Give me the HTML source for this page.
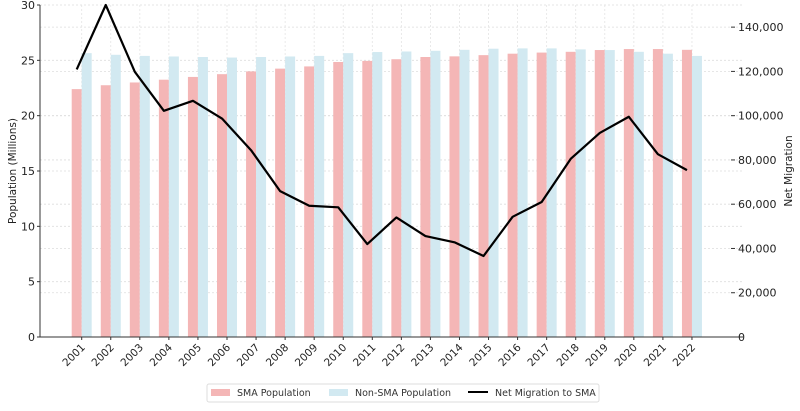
<!DOCTYPE html>
<html><head><meta charset="utf-8"><style>
body{margin:0;background:#fff;width:800px;height:406px;overflow:hidden}
svg{font-family:"DejaVu Sans","Liberation Sans",sans-serif}
</style></head><body>
<svg id="chart" width="800" height="406" viewBox="0 0 800 406" xmlns="http://www.w3.org/2000/svg"></svg>
<script>
const years=["2001","2002","2003","2004","2005","2006","2007","2008","2009","2010","2011","2012","2013","2014","2015","2016","2017","2018","2019","2020","2021","2022"];
const smaPop=[22.4,22.75,23.0,23.25,23.5,23.75,24.0,24.25,24.45,24.85,24.95,25.1,25.3,25.36,25.47,25.6,25.7,25.77,25.93,26.02,26.02,25.95];
const nonSmaPop=[25.65,25.5,25.4,25.35,25.3,25.25,25.3,25.35,25.4,25.65,25.75,25.8,25.86,25.95,26.05,26.08,26.08,25.99,25.93,25.77,25.6,25.4];
const netMigration=[120900,150000,119800,102200,106700,98700,84400,65900,59300,58600,42000,54000,45600,42800,36600,54300,61000,80500,92200,99500,82600,75400];
const leftTicks=[0,5,10,15,20,25,30];
const rightTicks=[0,20000,40000,60000,80000,100000,120000,140000];

const svg=document.getElementById('chart');
const NS='http://www.w3.org/2000/svg';
const X0=40,Y0=337,YT=5,X1=743;
const cx0=81.7,step=29.06,bw=10;
function xc(i){return cx0+i*step;}
function yl(v){return Y0-(Y0-YT)*v/30;}
function yr(v){return Y0-(Y0-YT)*v/150000;}
function mk(tag,attrs,parent){const e=document.createElementNS(NS,tag);for(const k in attrs)e.setAttribute(k,attrs[k]);(parent||svg).appendChild(e);return e;}

// grid
leftTicks.forEach(v=>{const g=mk('line',{x1:X0,x2:X1,y1:yl(v),y2:yl(v),stroke:'#ddd','stroke-dasharray':'2,2','stroke-width':0.8});

});
rightTicks.forEach(v=>{const g=mk('line',{x1:X0,x2:X1,y1:yr(v),y2:yr(v),stroke:'#ddd','stroke-dasharray':'2,2','stroke-width':0.8});

});
years.forEach((y,i)=>{const g=mk('line',{x1:xc(i),x2:xc(i),y1:YT,y2:Y0,stroke:'#e4e4e4','stroke-dasharray':'2,2','stroke-width':0.8});

});

// bars
years.forEach((y,i)=>{
 const a=mk('rect',{x:xc(i)-bw,y:yl(smaPop[i]),width:bw,height:Y0-yl(smaPop[i]),fill:'#f4b6b6'});
 
 
 const b=mk('rect',{x:xc(i),y:yl(nonSmaPop[i]),width:bw,height:Y0-yl(nonSmaPop[i]),fill:'#d2e9f1'});
 
 
});

// line
const pts=netMigration.map((v,i)=>(xc(i)-bw/2)+','+yr(v)).join(' ');
const pl=mk('polyline',{points:pts,fill:'none',stroke:'#000','stroke-width':2.2,'stroke-linejoin':'round'});



// axes
const la=mk('line',{x1:X0,x2:X0,y1:YT,y2:Y0,stroke:'#333','stroke-width':1});


const ba=mk('line',{x1:X0,x2:X1,y1:Y0,y2:Y0,stroke:'#333','stroke-width':1});



leftTicks.forEach(v=>{
 mk('line',{x1:X0-3,x2:X0,y1:yl(v),y2:yl(v),stroke:'#333'});
 const t=mk('text',{x:X0-5,y:yl(v)+4,'text-anchor':'end','font-size':11,fill:'#222'});
 t.textContent=v;
 
 
});
rightTicks.forEach(v=>{
 mk('line',{x1:731,x2:735,y1:yr(v),y2:yr(v),stroke:'#333'});
 const t=mk('text',{x:738,y:yr(v)+4,'font-size':11,fill:'#222'});
 t.textContent=v.toLocaleString('en-US');
 
 
});
years.forEach((y,i)=>{
 mk('line',{x1:xc(i),x2:xc(i),y1:Y0,y2:Y0+3,stroke:'#333'});
 const tx=xc(i)+4,ty=Y0+11;
 const t=mk('text',{x:tx,y:ty,'text-anchor':'end','font-size':10.5,fill:'#222',transform:`rotate(-45 ${tx} ${ty})`});
 t.textContent=y;
 
 
});

const yt=mk('text',{x:0,y:0,'text-anchor':'middle','font-size':10.5,fill:'#222',transform:'translate(16 171) rotate(-90)'});
yt.textContent='Population (Millions)';


const yt2=mk('text',{x:0,y:0,'text-anchor':'middle','font-size':10.5,fill:'#222',transform:'translate(792 171) rotate(-90)'});
yt2.textContent='Net Migration';



// legend
const lg=mk('g',{});


mk('rect',{x:207,y:384,width:392,height:18,fill:'#fff',stroke:'#ddd',rx:2},lg);
const e1=mk('rect',{x:211,y:389,width:19,height:7,fill:'#f4b6b6'},lg);


const l1=mk('text',{x:237,y:396,'font-size':9.5,fill:'#333'},lg);l1.textContent='SMA Population';


const e2=mk('rect',{x:329,y:389,width:19,height:7,fill:'#d2e9f1'},lg);


const l2=mk('text',{x:355,y:396,'font-size':9.5,fill:'#333'},lg);l2.textContent='Non-SMA Population';


const e3=mk('line',{x1:468,x2:488,y1:392,y2:392,stroke:'#000','stroke-width':2},lg);


const l3=mk('text',{x:495,y:396,'font-size':9.5,fill:'#333'},lg);l3.textContent='Net Migration to SMA';


</script>
</body></html>
